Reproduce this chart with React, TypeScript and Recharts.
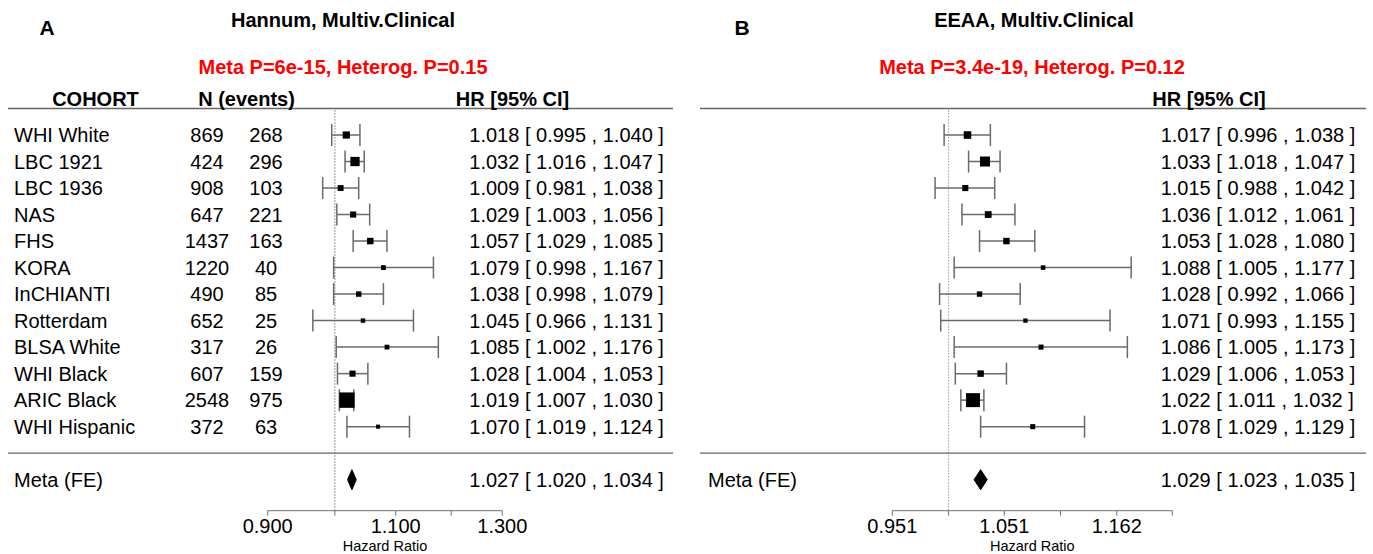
import React from 'react';
import { ComposedChart, Scatter, Area, XAxis, YAxis, ZAxis, ErrorBar, ReferenceLine } from 'recharts';

const FONT = "'Liberation Sans', Arial, Helvetica, sans-serif";

// cohorts and counts (shared by both panels)
const cohorts = ['WHI White', 'LBC 1921', 'LBC 1936', 'NAS', 'FHS', 'KORA', 'InCHIANTI', 'Rotterdam', 'BLSA White', 'WHI Black', 'ARIC Black', 'WHI Hispanic'];
const nTotal = [869, 424, 908, 647, 1437, 1220, 490, 652, 317, 607, 2548, 372];
const nEvents = [268, 296, 103, 221, 163, 40, 85, 25, 26, 159, 975, 63];

// panel A: Hannum
const hrA = [1.018, 1.032, 1.009, 1.029, 1.057, 1.079, 1.038, 1.045, 1.085, 1.028, 1.019, 1.070];
const loA = [0.995, 1.016, 0.981, 1.003, 1.029, 0.998, 0.998, 0.966, 1.002, 1.004, 1.007, 1.019];
const hiA = [1.040, 1.047, 1.038, 1.056, 1.085, 1.167, 1.079, 1.131, 1.176, 1.053, 1.030, 1.124];
const weightA = [8.1, 13.4, 5.4, 5.9, 6.6, 3.6, 4.6, 3.1, 3.6, 5.9, 37.1, 2.6];
const metaA = [1.027, 1.020, 1.034];
const ticksA = [0.9, 1.0, 1.1, 1.2, 1.3];
const tickLabelsA = ['0.900', '', '1.100', '', '1.300'];

// panel B: EEAA
const hrB = [1.017, 1.033, 1.015, 1.036, 1.053, 1.088, 1.028, 1.071, 1.086, 1.029, 1.022, 1.078];
const loB = [0.996, 1.018, 0.988, 1.012, 1.028, 1.005, 0.992, 0.993, 1.005, 1.006, 1.011, 1.029];
const hiB = [1.038, 1.047, 1.042, 1.061, 1.080, 1.177, 1.066, 1.155, 1.173, 1.053, 1.032, 1.129];
const weightB = [8.9, 15.7, 5.9, 7.2, 6.5, 3.3, 4.5, 2.9, 4.0, 6.5, 30.6, 4.0];
const metaB = [1.029, 1.023, 1.035];
const ticksB = [0.951, 1.0, 1.051, 1.105, 1.162, 1.221];
const tickLabelsB = ['0.951', '', '1.051', '', '1.162', ''];

const META_ROW = 14;
const SEP_ROW = 13;
const AXIS_ROW = 15.17;
const DIAMOND_H = 0.377;

const fmt = (v: number) => v.toFixed(3);
const ciText = (h: number, l: number, u: number) => `${fmt(h)} [ ${fmt(l)} , ${fmt(u)} ]`;

type PanelCfg = {
  left: number;
  width: number;
  plotLeft: number;
  plotRight: number;
  hr: number[];
  lo: number[];
  hi: number[];
  weight: number[];
  meta: number[];
  domain: [number, number];
  ticks: number[];
  tickLabels: string[];
  showCohorts: boolean;
  nameX: number;
  hrX: number;
  rule: [number, number];
  hrHeadX: number;
  letter: string;
  letterX: number;
  title: string;
  titleX: number;
  subtitle: string;
  subtitleX: number;
  refColor: string;
};

function Panel({ cfg }: { cfg: PanelCfg }) {
  const studies = cohorts.map((c, i) => ({
    x: cfg.hr[i],
    row: i + 1,
    w: cfg.weight[i],
    err: [cfg.hr[i] - cfg.lo[i], cfg.hi[i] - cfg.hr[i]],
  }));
  const rows = cohorts.map((c, i) => ({
    x: 1,
    row: i + 1,
    name: cfg.showCohorts ? c : '',
    n: cfg.showCohorts ? String(nTotal[i]) : '',
    ev: cfg.showCohorts ? String(nEvents[i]) : '',
    hr: ciText(cfg.hr[i], cfg.lo[i], cfg.hi[i]),
  }));
  rows.push({ x: 1, row: META_ROW, name: 'Meta (FE)', n: '', ev: '', hr: ciText(cfg.meta[0], cfg.meta[1], cfg.meta[2]) });
  const rules = [{ x: 1, row: 0 }, { x: 1, row: SEP_ROW }];
  const diamond = [
    { x: cfg.meta[1], band: [META_ROW, META_ROW] },
    { x: cfg.meta[0], band: [META_ROW - DIAMOND_H, META_ROW + DIAMOND_H] },
    { x: cfg.meta[2], band: [META_ROW, META_ROW] },
  ];

  const rowShape = (p: any) => {
    const { cy, payload } = p;
    return (
      <g fontFamily={FONT} fontSize={20} fill="#000">
        <text x={cfg.nameX} y={cy} dy="0.35em">{payload.name}</text>
        <text x={207} y={cy} dy="0.35em" textAnchor="middle">{payload.n}</text>
        <text x={266} y={cy} dy="0.35em" textAnchor="middle">{payload.ev}</text>
        <text x={cfg.hrX} y={cy} dy="0.35em">{payload.hr}</text>
      </g>
    );
  };

  const ruleShape = (p: any) => {
    const { cy, payload } = p;
    return (
      <g fontFamily={FONT} fontSize={20} fontWeight="bold" fill="#000">
        <line x1={cfg.rule[0]} x2={cfg.rule[1]} y1={cy} y2={cy} stroke="#666" strokeWidth={1.3} />
        {payload.row === 0 && cfg.showCohorts && (
          <>
            <text x={95.5} y={cy - 3} textAnchor="middle">COHORT</text>
            <text x={246.5} y={cy - 3} textAnchor="middle">N (events)</text>
          </>
        )}
        {payload.row === 0 && <text x={cfg.hrHeadX} y={cy - 3} textAnchor="middle">HR [95% CI]</text>}
      </g>
    );
  };

  const textDiv = (x: number, y: number, txt: string, color: string, size: number) => (
    <div
      style={{
        position: 'absolute',
        left: x - 250,
        top: y - 12,
        width: 500,
        textAlign: 'center',
        lineHeight: '24px',
        fontSize: size,
        fontWeight: 'bold',
        fontFamily: FONT,
        color,
        whiteSpace: 'nowrap',
      }}
    >
      {txt}
    </div>
  );

  return (
    <div style={{ position: 'absolute', left: cfg.left, top: 0, width: cfg.width, height: 554 }}>
      {textDiv(cfg.letterX, 28, cfg.letter, '#000', 21)}
      {textDiv(cfg.titleX, 20, cfg.title, '#000', 20)}
      {textDiv(cfg.subtitleX, 67, cfg.subtitle, '#ff0000', 20)}
      <div style={{ position: 'absolute', left: 0, top: 0 }}>
        <ComposedChart
          width={cfg.width}
          height={554}
          margin={{ top: 108.5, left: cfg.plotLeft, right: cfg.width - cfg.plotRight, bottom: 3.3 }}
        >
          <XAxis
            type="number"
            dataKey="x"
            scale="log"
            domain={cfg.domain}
            ticks={cfg.ticks}
            interval={0}
            tickFormatter={(v: number) => cfg.tickLabels[cfg.ticks.indexOf(v)] ?? ''}
            height={40}
            tickSize={5}
            tickMargin={3}
            stroke="#707070"
            tick={{ fill: '#000', fontSize: 20, fontFamily: FONT }}
            label={{ value: 'Hazard Ratio', position: 'insideBottom', offset: 0, fill: '#000', fontSize: 14.5, fontFamily: FONT }}
          />
          <YAxis type="number" dataKey="row" domain={[0, AXIS_ROW]} reversed hide />
          <ZAxis type="number" dataKey="w" domain={[0, 100]} range={[0, 640]} />
          <ReferenceLine x={1} stroke={cfg.refColor} strokeDasharray="1.5 1.5" strokeWidth={1} />
          <Scatter data={rules} shape={ruleShape} isAnimationActive={false} />
          <Scatter data={rows} shape={rowShape} isAnimationActive={false} />
          <Area
            data={diamond}
            dataKey="band"
            type="linear"
            stroke="#000"
            strokeWidth={1}
            fill="#000"
            fillOpacity={1}
            dot={false}
            activeDot={false}
            isAnimationActive={false}
          />
          <Scatter data={studies} fill="#000" shape="square" isAnimationActive={false}>
            <ErrorBar dataKey="err" direction="x" width={11} stroke="#6a6a6a" strokeWidth={1.5} />
          </Scatter>
        </ComposedChart>
      </div>
    </div>
  );
}

const panelA: PanelCfg = {
  left: 0,
  width: 686,
  plotLeft: 267.7,
  plotRight: 502.3,
  hr: hrA,
  lo: loA,
  hi: hiA,
  weight: weightA,
  meta: metaA,
  domain: [0.9, 1.3],
  ticks: ticksA,
  tickLabels: tickLabelsA,
  showCohorts: true,
  nameX: 14,
  hrX: 469.3,
  rule: [8, 673],
  hrHeadX: 512.5,
  letter: 'A',
  letterX: 47,
  title: 'Hannum, Multiv.Clinical',
  titleX: 343,
  subtitle: 'Meta P=6e-15, Heterog. P=0.15',
  subtitleX: 343,
  refColor: '#777',
};

const panelB: PanelCfg = {
  left: 686,
  width: 687,
  plotLeft: 206.3,
  plotRight: 486.3,
  hr: hrB,
  lo: loB,
  hi: hiB,
  weight: weightB,
  meta: metaB,
  domain: [0.951, 1.221],
  ticks: ticksB,
  tickLabels: tickLabelsB,
  showCohorts: false,
  nameX: 22,
  hrX: 474.7,
  rule: [14, 680],
  hrHeadX: 523,
  letter: 'B',
  letterX: 56,
  title: 'EEAA, Multiv.Clinical',
  titleX: 348,
  subtitle: 'Meta P=3.4e-19, Heterog. P=0.12',
  subtitleX: 346,
  refColor: '#999',
};

export default function App() {
  return (
    <div style={{ position: 'absolute', left: 0, top: 0, width: 1373, height: 554, background: '#fff' }}>
      <Panel cfg={panelA} />
      <Panel cfg={panelB} />
    </div>
  );
}
